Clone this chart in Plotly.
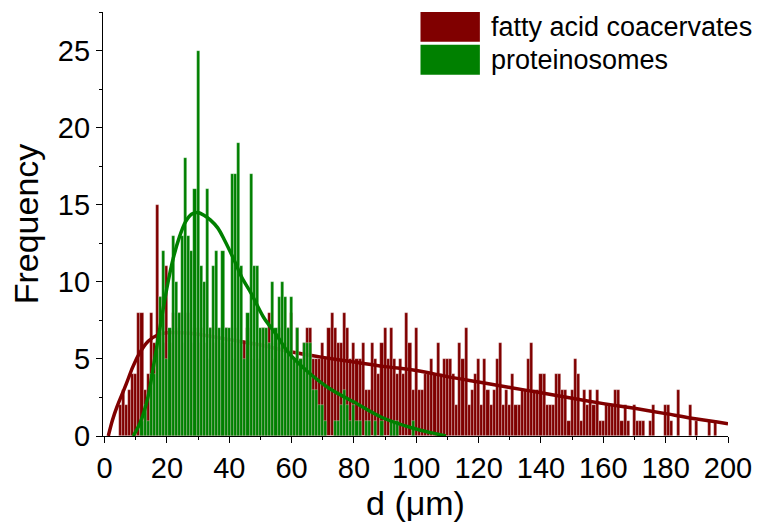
import plotly.graph_objects as go

# Size bins (µm, 1 µm wide) and counts per bin
fatty_d = list(range(5, 198))
fatty_counts = [
    2, 3, 2, 3, 4, 4, 8, 8, 3, 4,            # 5-14
    8, 6, 15, 9, 6, 11, 6, 8, 7, 8,          # 15-24
    6, 8, 8, 6, 7, 6, 7, 6, 5, 7,            # 25-34
    6, 7, 5, 6, 7, 6, 5, 7, 6, 5,            # 35-44
    6, 7, 5, 6, 5, 6, 7, 6, 8, 5,            # 45-54
    6, 7, 5, 6, 7, 8, 5, 7, 5, 6,            # 55-64
    7, 7, 5, 5, 5, 6, 5, 7, 8, 7,            # 65-74
    6, 6, 8, 7, 5, 6, 5, 5, 6, 3,            # 75-84
    3, 6, 5, 4, 6, 7, 5, 7, 5, 4,            # 85-94
    5, 4, 8, 6, 3, 7, 3, 3, 4, 4,            # 95-104
    5, 4, 6, 4, 5, 5, 5, 4, 2, 6,            # 105-114
    5, 7, 2, 3, 4, 5, 2, 5, 3, 2,            # 115-124
    3, 5, 6, 2, 3, 2, 4, 2, 2, 3,            # 125-134
    3, 5, 6, 3, 3, 4, 4, 2, 2, 2,            # 135-144
    4, 4, 3, 3, 1, 3, 5, 4, 1, 3,            # 145-154
    2, 3, 2, 3, 1, 1, 2, 2, 2, 3,            # 155-164
    3, 1, 2, 1, 0, 2, 1, 1, 1, 0,            # 165-174
    1, 2, 0, 0, 0, 2, 2, 1, 0, 3,            # 175-184
    0, 0, 0, 2, 0, 1, 0, 0, 0, 1,            # 185-194
    0, 1, 0,                                 # 195-197
]

protein_d = list(range(12, 100))
protein_counts = [
    1, 2, 1, 4, 4, 6, 9, 12, 5, 7,           # 12-21
    13, 10, 8, 13, 18, 13, 12, 16, 25, 11,   # 22-31
    10, 16, 7, 11, 12, 7, 12, 7, 7, 17,      # 32-41
    17, 19, 11, 5, 8, 17, 11, 11, 7, 7,      # 42-51
    7, 6, 10, 7, 9, 10, 9, 7, 9, 5,          # 52-61
    7, 5, 6, 6, 6, 3, 3, 2, 2, 1,            # 62-71
    0, 0, 1, 1, 2, 3, 2, 1, 2, 1,            # 72-81
    1, 0, 1, 1, 0, 1, 0, 1, 0, 0,            # 82-91
    1, 1, 1, 0, 0, 0, 0, 1,                  # 92-99
]

# Distribution fit curves (d in µm, frequency)
fatty_fit_d = [1.2, 2.5, 4.0, 5.5, 7.0, 9.0, 11.0, 14.0, 17.0, 20.0, 25.0,
               30.0, 40.0, 50.0, 60.0, 70.0, 80.0, 90.0, 100.0, 110.0,
               120.0, 130.0, 140.0, 150.0, 160.0, 170.0, 180.0, 190.0, 200.0]
fatty_fit_f = [0.0, 1.0, 1.9, 2.65, 3.4, 4.45, 5.3, 6.15, 6.55, 6.7, 6.7,
               6.6, 6.25, 5.9, 5.45, 5.1, 4.8, 4.5, 4.25, 3.85,
               3.5, 3.15, 2.8, 2.45, 2.1, 1.8, 1.45, 1.1, 0.8]

protein_fit_d = [9.2, 11.5, 13.9, 16.0, 18.0, 20.0, 22.0, 24.0, 26.0, 28.0,
                 30.0, 32.0, 34.0, 36.3, 38.5, 41.6, 44.0, 46.9, 51.0, 55.0,
                 59.0, 65.0, 72.0, 80.0, 89.0, 99.0, 105.0, 109.5]
protein_fit_f = [0.0, 0.9, 2.5, 4.9, 7.3, 9.6, 11.5, 12.9, 13.9, 14.4,
                 14.5, 14.3, 14.0, 13.5, 12.7, 11.4, 10.3, 9.3, 7.7, 6.6,
                 5.4, 4.2, 3.1, 2.2, 1.2, 0.5, 0.2, 0.0]

legend_labels = ["fatty acid coacervates", "proteinosomes"]

RED = "#800000"
GREEN = "#008000"
FONT = "Liberation Sans, Arial, sans-serif"
EDGE = dict(color="rgba(255,255,255,0.45)", width=0.6)

fig = go.Figure()

# Coacervates: bars then fit, on the base axes
fig.add_trace(go.Bar(x=fatty_d, y=fatty_counts, width=1.0,
                     marker=dict(color=RED, line=EDGE),
                     xaxis="x", yaxis="y", showlegend=False))
fig.add_trace(go.Scatter(x=fatty_fit_d, y=fatty_fit_f, mode="lines",
                         line=dict(color=RED, width=3.5, shape="spline", smoothing=0.8),
                         xaxis="x", yaxis="y", showlegend=False))

# Proteinosomes on an overlaid axis pair so they sit above the red fit
fig.add_trace(go.Bar(x=protein_d, y=protein_counts, width=1.0,
                     marker=dict(color=GREEN, line=EDGE),
                     xaxis="x2", yaxis="y2", showlegend=False))
fig.add_trace(go.Scatter(x=protein_fit_d, y=protein_fit_f, mode="lines",
                         line=dict(color=GREEN, width=3.5, shape="spline", smoothing=0.9),
                         xaxis="x2", yaxis="y2", showlegend=False))

X_RANGE = [-0.5, 200]
Y_RANGE = [0, 27.5]

axis_common = dict(showgrid=False, zeroline=False, showline=True,
                   linecolor="black", linewidth=1.3, ticks="outside",
                   tickcolor="black", tickwidth=1.3, ticklen=6,
                   tickfont=dict(family=FONT, size=29, color="black"))

fig.update_layout(
    width=764, height=524,
    margin=dict(l=103, r=31, t=12, b=86),
    paper_bgcolor="white", plot_bgcolor="white",
    barmode="overlay", bargap=0,
    xaxis=dict(range=X_RANGE, tick0=0, dtick=20,
               minor=dict(dtick=10, ticklen=3, ticks="outside", tickcolor="black", tickwidth=1.3),
               title=dict(text="d (μm)", font=dict(family=FONT, size=34, color="black"), standoff=4),
               **axis_common),
    yaxis=dict(range=Y_RANGE, tick0=0, dtick=5,
               minor=dict(dtick=2.5, ticklen=3, ticks="outside", tickcolor="black", tickwidth=1.3),
               title=dict(text="Frequency", font=dict(family=FONT, size=34, color="black"), standoff=8),
               **axis_common),
    xaxis2=dict(range=X_RANGE, overlaying="x", visible=False),
    yaxis2=dict(range=Y_RANGE, overlaying="y", visible=False),
)

# Legend drawn as colour boxes with labels at the upper right
box_x0, box_x1 = 0.508, 0.603
fig.add_shape(type="rect", xref="paper", yref="paper", x0=box_x0, x1=box_x1,
              y0=0.9297, y1=1.0, fillcolor=RED, line=dict(width=0))
fig.add_shape(type="rect", xref="paper", yref="paper", x0=box_x0, x1=box_x1,
              y0=0.852, y1=0.9226, fillcolor=GREEN, line=dict(width=0))
for label, yc in zip(legend_labels, [0.9648, 0.8875]):
    fig.add_annotation(x=0.6175, y=yc, xref="paper", yref="paper", text=label,
                       showarrow=False, xanchor="left", yanchor="middle",
                       font=dict(family=FONT, size=27, color="black"))

fig.write_html("out.html")
